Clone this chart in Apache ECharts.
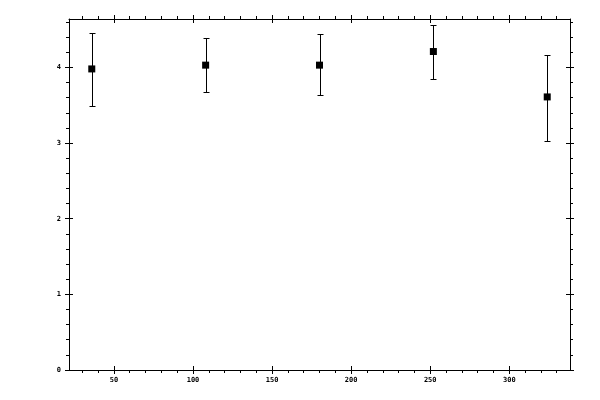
<!DOCTYPE html>
<html>
<head>
<meta charset="utf-8">
<script src="https://cdn.jsdelivr.net/npm/echarts@6/dist/echarts.min.js"></script>
<style>html,body{margin:0;padding:0;background:#fff;}#c{width:600px;height:400px;}</style>
</head>
<body>
<div id="c"></div>
<script>
// data
var xValues = [36, 108, 180, 252, 324];
var yValues = [3.98, 4.03, 4.03, 4.21, 3.61];
var yLow = [3.49, 3.68, 3.63, 3.85, 3.03];
var yHigh = [4.45, 4.39, 4.44, 4.56, 4.17];
var xMajorTicks = [50, 100, 150, 200, 250, 300];
var xMinorTicks = [30, 40, 60, 70, 80, 90, 110, 120, 130, 140, 160, 170, 180, 190, 210, 220, 230, 240, 260, 270, 280, 290, 310, 320, 330];
var yMajorTicks = [0, 1, 2, 3, 4];
var yMinorTicks = [0.2, 0.4, 0.6, 0.8, 1.2, 1.4, 1.6, 1.8, 2.2, 2.4, 2.6, 2.8, 3.2, 3.4, 3.6, 3.8, 4.2, 4.4, 4.6];
var xMin = 21.6, xMax = 338.4, yMin = 0, yMax = 4.64;

var points = xValues.map(function (x, i) { return [x, yValues[i]]; });
var bars = xValues.map(function (x, i) { return [x, yLow[i], yHigh[i]]; });

var font = { fontFamily: 'DejaVu Sans Mono', fontSize: 7, fontWeight: 'bold', color: '#000' };
var lineStyle = { color: '#000', width: 1 };

function axisLine(show) {
  return { show: show, onZero: false, lineStyle: lineStyle };
}
function xAxisDef(pos, opts) {
  return Object.assign({
    type: 'value', position: pos, min: xMin, max: xMax,
    splitLine: { show: false },
    axisLine: axisLine(false),
    axisLabel: { show: false },
    axisTick: { show: false }
  }, opts);
}
function yAxisDef(pos, opts) {
  return Object.assign({
    type: 'value', position: pos, min: yMin, max: yMax,
    splitLine: { show: false },
    axisLine: axisLine(false),
    axisLabel: { show: false },
    axisTick: { show: false }
  }, opts);
}

var xAxes = [
  xAxisDef('bottom', {
    axisLine: axisLine(true),
    axisLabel: Object.assign({ show: true, customValues: xMajorTicks, margin: 7 }, font),
    axisTick: { show: true, customValues: xMajorTicks, length: 4, lineStyle: lineStyle }
  }),
  xAxisDef('bottom', { axisTick: { show: true, inside: true, customValues: xMajorTicks, length: 4, lineStyle: lineStyle } }),
  xAxisDef('bottom', { axisTick: { show: true, customValues: xMinorTicks, length: 3, lineStyle: lineStyle } }),
  xAxisDef('top', {
    axisLine: axisLine(true),
    axisTick: { show: true, customValues: xMajorTicks, length: 4, lineStyle: lineStyle }
  }),
  xAxisDef('top', { axisTick: { show: true, inside: true, customValues: xMajorTicks, length: 4, lineStyle: lineStyle } }),
  xAxisDef('top', { axisTick: { show: true, customValues: xMinorTicks, length: 3, lineStyle: lineStyle } })
];
var yAxes = [
  yAxisDef('left', {
    axisLine: axisLine(true),
    axisLabel: Object.assign({ show: true, customValues: yMajorTicks, margin: 8 }, font),
    axisTick: { show: true, customValues: yMajorTicks, length: 4, lineStyle: lineStyle }
  }),
  yAxisDef('left', { axisTick: { show: true, inside: true, customValues: yMajorTicks, length: 4, lineStyle: lineStyle } }),
  yAxisDef('left', { axisTick: { show: true, customValues: yMinorTicks, length: 3, lineStyle: lineStyle } }),
  yAxisDef('right', {
    axisLine: axisLine(true),
    axisTick: { show: true, customValues: yMajorTicks, length: 4, lineStyle: lineStyle }
  }),
  yAxisDef('right', { axisTick: { show: true, inside: true, customValues: yMajorTicks, length: 4, lineStyle: lineStyle } }),
  yAxisDef('right', { axisTick: { show: true, customValues: yMinorTicks, length: 3, lineStyle: lineStyle } })
];

function renderBar(params, api) {
  var x = api.value(0);
  var lo = api.coord([x, api.value(1)]);
  var hi = api.coord([x, api.value(2)]);
  var cx = Math.round(lo[0]) + 0.5;
  var yl = Math.round(lo[1]) + 0.5;
  var yh = Math.round(hi[1]) + 0.5;
  var w = 3;
  var st = { stroke: '#000', lineWidth: 1 };
  return {
    type: 'group',
    children: [
      { type: 'line', shape: { x1: cx, y1: yh, x2: cx, y2: yl }, style: st },
      { type: 'line', shape: { x1: cx - w, y1: yh, x2: cx + w, y2: yh }, style: st },
      { type: 'line', shape: { x1: cx - w, y1: yl, x2: cx + w, y2: yl }, style: st }
    ]
  };
}

var chart = echarts.init(document.getElementById('c'), null, { renderer: 'canvas' });
chart.setOption({
  animation: false,
  backgroundColor: '#fff',
  grid: { left: 69, right: 30, top: 19, bottom: 30 },
  xAxis: xAxes,
  yAxis: yAxes,
  series: [
    {
      type: 'custom', renderItem: renderBar, data: bars,
      xAxisIndex: 0, yAxisIndex: 0, z: 2
    },
    {
      type: 'scatter', data: points, symbol: 'rect', symbolSize: 7,
      itemStyle: { color: '#000', opacity: 1 }, xAxisIndex: 0, yAxisIndex: 0, z: 3
    }
  ]
});
</script>
</body>
</html>
